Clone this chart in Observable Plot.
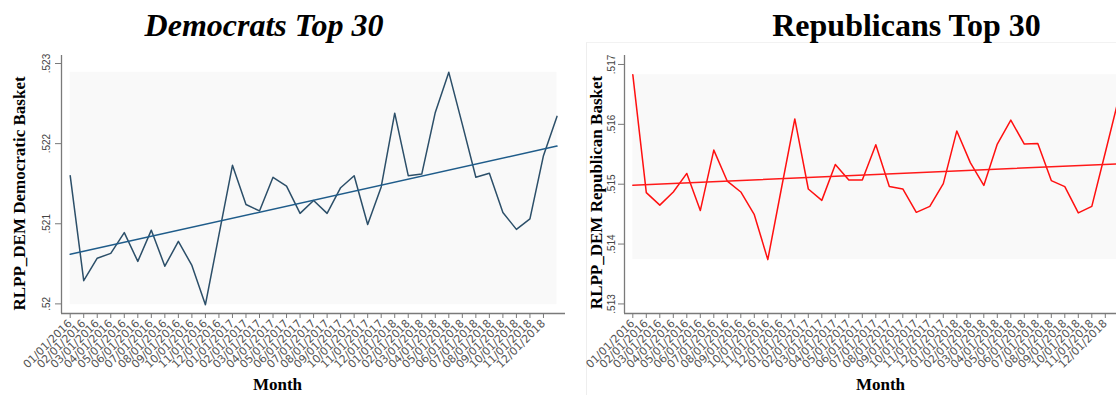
<!DOCTYPE html>
<html>
<head>
<meta charset="utf-8">
<script src="https://cdn.jsdelivr.net/npm/d3@7"></script>
<script src="https://cdn.jsdelivr.net/npm/@observablehq/plot@0.6"></script>
<style>
  html, body { margin: 0; padding: 0; background: #fff; overflow: hidden; }
  #page { position: relative; width: 1116px; height: 395px; overflow: hidden; background: #fff; }
  .title { position: absolute; top: 9px; font-family: "Liberation Serif", "Times New Roman", serif;
           font-weight: bold; font-size: 32px; line-height: 32px; color: #000; text-align: center; white-space: nowrap; }
  .panel { position: absolute; top: 45px; height: 350px; }
  .panel svg { max-width: none !important; }
  .region { position: absolute; left: 586px; top: 42px; width: 600px; height: 400px;
            border-left: 1px solid #eeeeee; border-top: 1px solid #f2f2f2; }
</style>
</head>
<body>
<div id="page">
  <div class="region"></div>
  <div class="title" style="left:0; width:528px; font-style:italic;">Democrats Top 30</div>
  <div class="title" style="left:771px; width:271px;">Republicans Top 30</div>
  <div class="panel" id="dem" style="left:0; width:566px;"></div>
  <div class="panel" id="rep" style="left:560px; width:569px;"></div>
</div>
<script>
// Month labels on the x axis (one per period; the final period is unlabelled)
const months = [
  "01/01/2016","02/01/2016","03/01/2016","04/01/2016","05/01/2016","06/01/2016",
  "07/01/2016","08/01/2016","09/01/2016","10/01/2016","11/01/2016","12/01/2016",
  "01/01/2017","02/01/2017","03/01/2017","04/01/2017","05/01/2017","06/01/2017",
  "07/01/2017","08/01/2017","09/01/2017","10/01/2017","11/01/2017","12/01/2017",
  "01/01/2018","02/01/2018","03/01/2018","04/01/2018","05/01/2018","06/01/2018",
  "07/01/2018","08/01/2018","09/01/2018","10/01/2018","11/01/2018","12/01/2018"
];

// RLPP_DEM, Democratic basket
const demValues = [
  0.52160, 0.52029, 0.52057, 0.52063, 0.52089, 0.52053, 0.52092, 0.52047, 0.52078, 0.52048,
  0.51999, 0.52086, 0.52173, 0.52124, 0.52116, 0.52158, 0.52147, 0.52113, 0.52129, 0.52113,
  0.52145, 0.52160, 0.52099, 0.52146, 0.52238, 0.52160, 0.52162, 0.52239, 0.52289, 0.52224,
  0.52158, 0.52163, 0.52114, 0.52093, 0.52106, 0.52185, 0.52234
];

// RLPP_DEM, Republican basket
const repValues = [
  0.51683, 0.51486, 0.51465, 0.51487, 0.51518, 0.51456, 0.51557, 0.51505, 0.51487, 0.51449,
  0.51374, 0.51492, 0.51609, 0.51492, 0.51473, 0.51533, 0.51507, 0.51507, 0.51566, 0.51496,
  0.51492, 0.51453, 0.51463, 0.51501, 0.51589, 0.51536, 0.51498, 0.51567, 0.51607, 0.51567,
  0.51568, 0.51506, 0.51496, 0.51452, 0.51463, 0.51553, 0.51644
];

// y-axis ticks and their labels
const demTicks = [0.520, 0.521, 0.522, 0.523];
const demTickLabels = [".52", ".521", ".522", ".523"];
const repTicks = [0.513, 0.514, 0.515, 0.516, 0.517];
const repTickLabels = [".513", ".514", ".515", ".516", ".517"];

function panel({values, ticks, tickLabels, yDomain, xDomain, lineColor, fitColor, yTitle,
                width, marginLeft, yPad, titleDx, titleDy, monthDx}) {
  const rows = values.map((v, i) => ({i, v}));
  const [vMin, vMax] = d3.extent(values);
  const bounds = [{x1: 0, x2: values.length - 1, y1: vMin, y2: vMax}];
  const tickText = new Map(ticks.map((t, k) => [t, tickLabels[k]]));
  return Plot.plot({
    width, height: 350,
    marginLeft, marginRight: 1, marginTop: 10, marginBottom: 82,
    x: {domain: xDomain, axis: null, label: null},
    y: {domain: yDomain, axis: null, label: null},
    style: {background: "transparent", fontFamily: "DejaVu Sans", overflow: "visible", maxWidth: "none"},
    marks: [
      Plot.rect(bounds, {x1: "x1", x2: "x2", y1: "y1", y2: "y2", fill: "#f9f9f9"}),
      Plot.ruleY([yDomain[0]], {stroke: "#7a7a7a", strokeWidth: 1.3}),
      Plot.ruleX([xDomain[0]], {stroke: "#7a7a7a", strokeWidth: 1.3}),
      Plot.axisY({ticks, tickFormat: d => tickText.get(d), tickRotate: -90, tickSize: 6,
                  tickPadding: yPad, label: null, fontSize: 10, fontFamily: "Liberation Sans",
                  stroke: "#7a7a7a", fill: "#444"}),
      Plot.axisX({ticks: d3.range(months.length), tickFormat: i => months[i], tickRotate: -45,
                  tickSize: 5, tickPadding: 3, label: null, fontSize: 11, fontFamily: "DejaVu Sans",
                  stroke: "#7a7a7a", fill: "#555"}),
      Plot.line(rows, {x: "i", y: "v", stroke: lineColor, strokeWidth: 1.5}),
      Plot.linearRegressionY(rows, {x: "i", y: "v", stroke: fitColor, strokeWidth: 1.5, ci: 0}),
      Plot.text(["Month"], {frameAnchor: "bottom", dx: monthDx, dy: 76, text: d => d,
                            fontFamily: "Liberation Serif", fontWeight: "bold", fontSize: 17, fill: "#000"}),
      Plot.text([yTitle], {frameAnchor: "left", rotate: -90, dx: titleDx, dy: titleDy, text: d => d,
                           textAnchor: "middle", lineAnchor: "middle",
                           fontFamily: "Liberation Serif", fontWeight: "bold", fontSize: 17, fill: "#000"})
    ]
  });
}

document.getElementById("dem").append(panel({
  values: demValues, ticks: demTicks, tickLabels: demTickLabels,
  yDomain: [0.51988, 0.5231], xDomain: [-0.643, 36.63],
  lineColor: "#2c4f69", fitColor: "#1f5c8a",
  yTitle: "RLPP_DEM Democratic Basket",
  width: 566, marginLeft: 61, yPad: 6, titleDx: -42, titleDy: 9, monthDx: -36
}));

document.getElementById("rep").append(panel({
  values: repValues, ticks: repTicks, tickLabels: repTickLabels,
  yDomain: [0.51284, 0.51715], xDomain: [-0.615, 36.718],
  lineColor: "#ff1010", fitColor: "#ff1a1a",
  yTitle: "RLPP_DEM Republican Basket",
  width: 569, marginLeft: 64, yPad: 4, titleDx: -28, titleDy: 8, monthDx: 4
}));
</script>
</body>
</html>
